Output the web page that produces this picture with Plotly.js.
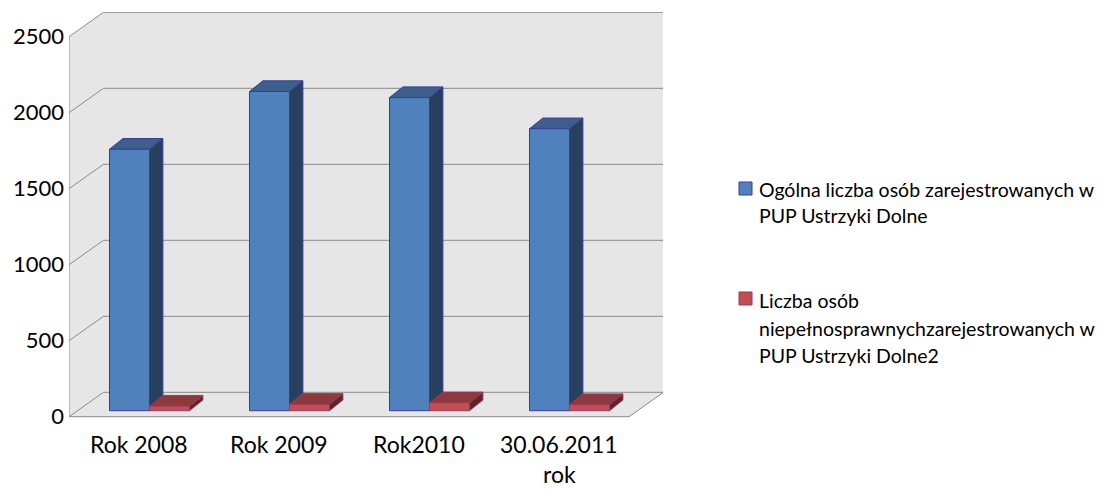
<!DOCTYPE html>
<html>
<head>
<meta charset="utf-8">
<script src="https://cdn.plot.ly/plotly-3.0.1.min.js"></script>
<style>html,body{margin:0;padding:0;background:#fff;}#chart{width:1104px;height:489px;}</style>
</head>
<body>
<div id="chart"></div>
<script>
// ---- data ----
const categories = ['Rok 2008', 'Rok 2009', 'Rok2010', '30.06.2011<br>rok'];
const totalRegistered = [1720, 2100, 2060, 1855];
const disabledRegistered = [30, 42, 52, 40];
const seriesNames = [
  'Ogólna liczba osób zarejestrowanych w PUP Ustrzyki Dolne',
  'Liczba osób niepełnosprawnychzarejestrowanych w PUP Ustrzyki Dolne2'
];
const legendLines = [
  ['Ogólna liczba osób zarejestrowanych w', 'PUP Ustrzyki Dolne'],
  ['Liczba osób', 'niepełnosprawnychzarejestrowanych w', 'PUP Ustrzyki Dolne2']
];
const yTicks = [0, 500, 1000, 1500, 2000, 2500];

// ---- geometry (pseudo-3D projection) ----
const PXX = 140;            // px per category
const PXY = 0.152;          // px per value unit
const WX = 34.5 / PXX, WY = 24.4 / PXY;   // wall depth
const BX = 13.4 / PXX, BY = 10.7 / PXY;   // bar depth
const BASE = 6 / PXY;                     // bar front plane floor offset
const BW = 40 / PXX;                      // bar width
const BLUE_L = -29.5 / PXX;               // blue bar left edge relative to category

const W = 1104, H = 489, L = 69, R = 1104 - 663, T = 12, B = 489 - 418;
const xRange = [-0.5, -0.5 + (W - L - R) / PXX];
const yRange = [-(418 - 416.7) / PXY, (416.7 - 12) / PXY];
const yMax = yTicks[yTicks.length - 1];
const FONT = 'Lato, sans-serif';

const colors = {
  blue: {front: '#4f81bd', top: '#3c5f8c', side: '#28405f', line: '#3a3a9e'},
  red:  {front: '#c0504d', top: '#8c3a3c', side: '#5f2328', line: '#a03464'}
};

function facePolys(values, offset) {
  const fx = [], fy = [], tx = [], ty = [], sx = [], sy = [];
  values.forEach((v, i) => {
    const x0 = i + offset, x1 = x0 + BW, b = BASE, t = BASE + v;
    fx.push(x0, x1, x1, x0, x0, null); fy.push(b, b, t, t, b, null);
    tx.push(x0, x1, x1 + BX, x0 + BX, x0, null); ty.push(t, t, t + BY, t + BY, t, null);
    sx.push(x1, x1 + BX, x1 + BX, x1, x1, null); sy.push(b, b + BY, t + BY, t, b, null);
  });
  return {fx, fy, tx, ty, sx, sy};
}
function faceTrace(x, y, fill, line, name) {
  return {type: 'scatter', mode: 'lines', x, y, fill: 'toself', fillcolor: fill,
    line: {color: line, width: 1}, hoverinfo: 'skip', showlegend: false, name};
}
const traces = [];
[[totalRegistered, BLUE_L, colors.blue, seriesNames[0]],
 [disabledRegistered, BLUE_L + BW, colors.red, seriesNames[1]]].forEach(([vals, off, c, nm]) => {
  const p = facePolys(vals, off);
  traces.push(faceTrace(p.sx, p.sy, c.side, c.line, nm));
  traces.push(faceTrace(p.tx, p.ty, c.top, c.line, nm));
  traces.push(faceTrace(p.fx, p.fy, c.front, c.line, nm));
});

// ---- walls & gridlines ----
const gridColor = '#8a8a8a';
const shapes = [];
shapes.push({type: 'path', layer: 'below', xref: 'x', yref: 'y',
  path: `M${-0.5},0 L${-0.5},${yMax} L${-0.5 + WX},${yMax + WY} L${3.5 + WX},${yMax + WY} L${3.5 + WX},${WY} L3.5,0 Z`,
  fillcolor: '#e6e6e6', line: {width: 0}});
const seg = (x0, y0, x1, y1) => shapes.push({type: 'line', layer: 'below', xref: 'x', yref: 'y',
  x0, y0, x1, y1, line: {color: gridColor, width: 1}});
yTicks.forEach(v => {
  seg(-0.5, v, -0.5 + WX, v + WY);
  seg(-0.5 + WX, v + WY, 3.5 + WX, v + WY);
});
seg(-0.5, 0, -0.5, yMax);
seg(-0.5, 0, 3.5, 0);
seg(3.5, 0, 3.5 + WX, WY);

// ---- legend & category labels (annotations) ----
const plotW = W - L - R, plotH = H - T - B;
const px2x = px => (px - L) / plotW;
const py2y = py => 1 - (py - T) / plotH;
const annotations = [];

// category labels, one line per annotation for Excel-like line spacing
categories.forEach((c, i) => {
  c.split('<br>').forEach((line, k) => {
    annotations.push({xref: 'x', yref: 'paper', x: i, y: py2y(443.5 + 30.5 * k),
      xanchor: 'center', yanchor: 'middle', showarrow: false, text: line,
      font: {family: FONT, size: 23, color: '#000'}});
  });
});

const legendSq = [[182, colors.blue], [292, colors.red]];
legendSq.forEach(([top, c]) => {
  shapes.push({type: 'rect', xref: 'paper', yref: 'paper', x0: px2x(739), x1: px2x(752),
    y0: py2y(top + 13), y1: py2y(top), fillcolor: c.front, line: {color: c.line, width: 1}});
});
const legendBaselines = [[196, 222], [307, 335, 362]];
legendLines.forEach((lines, k) => {
  lines.forEach((line, j) => {
    annotations.push({xref: 'paper', yref: 'paper', x: px2x(757), y: py2y(legendBaselines[k][j] - 6.5),
      xanchor: 'left', yanchor: 'middle', align: 'left', showarrow: false,
      text: line, font: {family: FONT, size: 19.5, color: '#000'}});
  });
});

const layout = {
  width: W, height: H, margin: {l: L, r: R, t: T, b: B, pad: 0},
  paper_bgcolor: '#ffffff', plot_bgcolor: '#ffffff', showlegend: false,
  font: {family: FONT, color: '#000'},
  xaxis: {range: xRange, showticklabels: false,
    showgrid: false, zeroline: false, showline: false, ticks: '', fixedrange: true},
  yaxis: {range: yRange, tickvals: yTicks, ticktext: yTicks.map(String),
    showgrid: false, zeroline: false, showline: false, ticks: '', fixedrange: true,
    tickfont: {size: 22, color: '#000', family: FONT}, ticklabelstandoff: 4},
  shapes, annotations
};
Plotly.newPlot('chart', traces, layout, {displayModeBar: false, staticPlot: true});
</script>
</body>
</html>
